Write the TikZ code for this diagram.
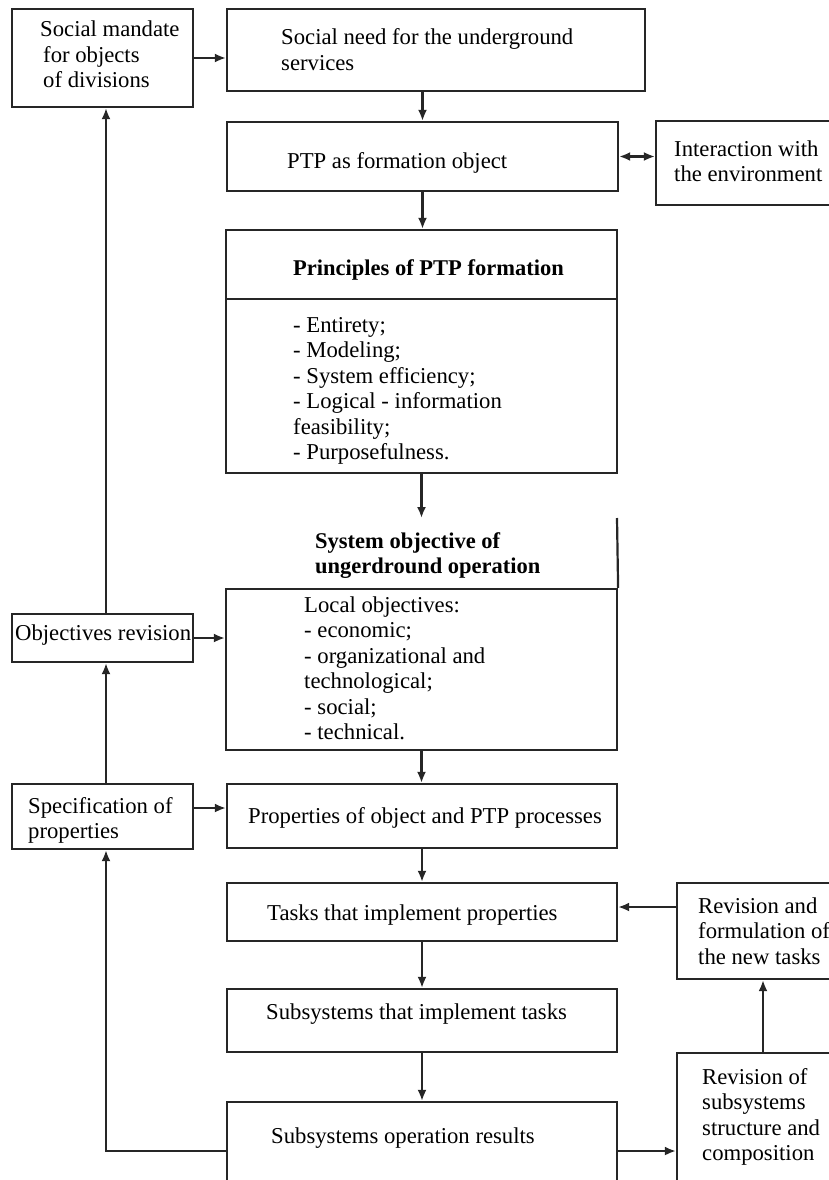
\documentclass[tikz,border=0pt]{standalone}
\usepackage{fontspec}
\setmainfont{Liberation Serif}
\usetikzlibrary{arrows.meta}
\newcommand{\mlines}[1]{\begin{tabular}[t]{@{}l@{}}#1\end{tabular}}
\begin{document}
\begin{tikzpicture}[x=1pt,y=-1pt,
  box/.style={draw=black!85, line width=2.2pt, inner sep=0pt},
  txt/.style={inner sep=0pt, anchor=base west, font=\fontsize{22.7pt}{25.5pt}\selectfont, text=black},
  btxt/.style={txt, font=\fontsize{22.5pt}{25pt}\selectfont\bfseries},
  conn/.style={draw=black!85, line width=2.2pt},
  tip/.style={Latex[length=11pt,width=9pt]},
  arr/.style={conn, -{Latex[length=11pt,width=9pt]}},
  arrtwo/.style={conn, {Latex[length=11pt,width=9pt]}-{Latex[length=11pt,width=9pt]}}]
\useasboundingbox (0,0) rectangle (829,1180);
\clip (0,0) rectangle (829,1180);
% boxes
\node[box, minimum width=181pt, minimum height=98pt] (b1) at (102.5,58) {};
\node[box, minimum width=418pt, minimum height=82pt] (b2) at (436,50) {};
\node[box, minimum width=391pt, minimum height=69pt] (b3) at (422.5,156.5) {};
\node[box, minimum width=184pt, minimum height=84pt] (b4) at (748,163) {};
\node[box, minimum width=391pt, minimum height=243pt] (b5) at (421.5,351.5) {};
\node[box, minimum width=391pt, minimum height=161pt] (b6) at (421.5,669.5) {};
\node[box, minimum width=181pt, minimum height=48pt] (b7) at (102.5,638) {};
\node[box, minimum width=181pt, minimum height=65pt] (b8) at (102.5,816.5) {};
\node[box, minimum width=390pt, minimum height=64pt] (b9) at (422,816) {};
\node[box, minimum width=390pt, minimum height=58pt] (b10) at (422,912) {};
\node[box, minimum width=163pt, minimum height=96pt] (b11) at (758.5,931) {};
\node[box, minimum width=390pt, minimum height=63pt] (b12) at (422,1020.5) {};
\node[box, minimum width=390pt, minimum height=98pt] (b13) at (422,1151) {};
\node[box, minimum width=163pt, minimum height=147pt] (b14) at (758.5,1126.5) {};
% divider in principles box
\coordinate (divl) at (226,299);
\coordinate (divr) at (617,299);
\draw[conn] (divl) -- (divr);
% open top of system objective section
\coordinate (systop) at (617,518);
\draw[conn] (systop) -- (b6.north east);
\coordinate (sysin) at (421.5,518);
% texts
\node[txt] (t1) at (40,37) {\mlines{Social mandate\\\hspace{3pt}for objects\\\hspace{3pt}of divisions}};
\node[txt] (t2) at (281,45) {\mlines{Social need for the underground\\services}};
\node[txt] (t3) at (287,168) {PTP as formation object};
\node[txt] (t4) at (674,156) {\mlines{Interaction with\\the environment}};
\node[btxt] (t5) at (293,275) {Principles of PTP formation};
\node[txt] (t6) at (293,332) {\mlines{- Entirety;\\- Modeling;\\- System efficiency;\\- Logical - information\\feasibility;\\- Purposefulness.}};
\node[btxt] (t7) at (315,548) {\mlines{System objective of\\ungerdround operation}};
\node[txt] (t8) at (304,612) {\mlines{Local objectives:\\- economic;\\- organizational and\\technological;\\- social;\\- technical.}};
\node[txt] (t9) at (15,640) {Objectives revision};
\node[txt] (t10) at (28,813) {\mlines{Specification of\\properties}};
\node[txt] (t11) at (248,823) {Properties of object and PTP processes};
\node[txt] (t12) at (267,920) {Tasks that implement properties};
\node[txt] (t13) at (698,913) {\mlines{Revision and\\formulation of\\the new tasks}};
\node[txt] (t14) at (266,1019) {Subsystems that implement tasks};
\node[txt] (t15) at (271,1143) {Subsystems operation results};
\node[txt] (t16) at (702,1084) {\mlines{Revision of\\subsystems\\structure and\\composition}};
% connectors
\draw[arr] (b1.east) -- (b1.east -| b2.west);
\draw[arr] (b3.north |- b2.south) -- (b3.north);
\draw[arrtwo] (b3.east) -- (b3.east -| b4.west);
\draw[arr] (b3.south) -- (b3.south |- b5.north);
\draw[arr] (b5.south) -- (sysin);
\draw[arr] (b6.south) -- (b6.south |- b9.north);
\draw[arr] ([xshift=3.5pt]b7.north) -- ([xshift=3.5pt]b1.south);
\draw[arr] (b7.east) -- (b7.east -| b6.west);
\draw[arr] ([xshift=3.5pt]b8.north) -- ([xshift=3.5pt]b7.south);
\draw[arr] ([yshift=8.5pt]b8.east) -- ([yshift=8.5pt]b8.east -| b9.west);
\draw[arr] (b9.south) -- (b9.south |- b10.north);
\draw[arr] ([yshift=24pt]b11.west) -- ([yshift=24pt]b11.west -| b10.east);
\draw[arr] (b10.south) -- (b10.south |- b12.north);
\draw[arr] (b12.south) -- (b12.south |- b13.north);
\draw[arr] (b13.west) -| ([xshift=3.5pt]b8.south);
\draw[arr] (b13.east) -- (b13.east -| b14.west);
\draw[arr] ([xshift=4.5pt]b14.north) -- ([xshift=4.5pt]b11.south);
\end{tikzpicture}
\end{document}
